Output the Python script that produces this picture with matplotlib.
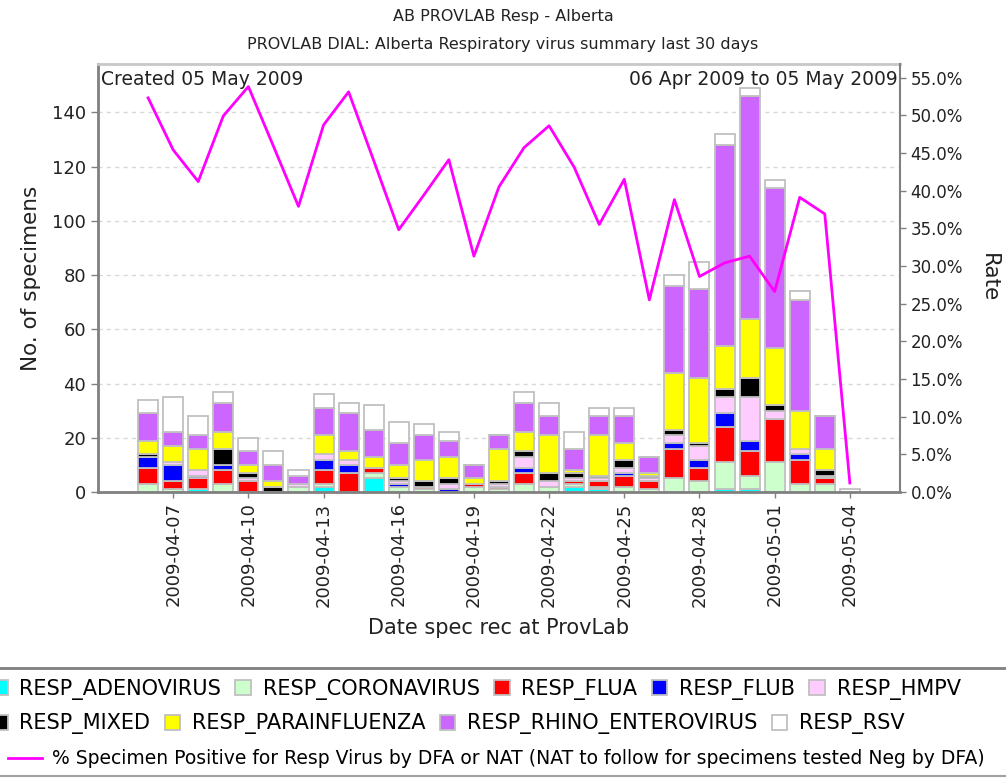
import numpy as np
import matplotlib
matplotlib.use("Agg")
import matplotlib.pyplot as plt
from matplotlib.lines import Line2D

# Dates of specimen receipt (06 Apr 2009 .. 04 May 2009)
dates = ["2009-04-06", "2009-04-07", "2009-04-08", "2009-04-09", "2009-04-10",
         "2009-04-11", "2009-04-12", "2009-04-13", "2009-04-14", "2009-04-15",
         "2009-04-16", "2009-04-17", "2009-04-18", "2009-04-19", "2009-04-20",
         "2009-04-21", "2009-04-22", "2009-04-23", "2009-04-24", "2009-04-25",
         "2009-04-26", "2009-04-27", "2009-04-28", "2009-04-29", "2009-04-30",
         "2009-05-01", "2009-05-02", "2009-05-03", "2009-05-04"]

adeno = [0, 0, 1, 0, 0, 0, 0, 2, 0, 5, 0, 0, 0, 0, 0, 0, 0, 2, 1, 0,
         0, 0, 0, 1, 1, 0, 0, 0, 0]
corona = [3, 1, 0, 3, 0, 0, 2, 1, 0, 2, 2, 1, 0, 2, 1, 3, 2, 1, 1, 2,
          1, 5, 4, 10, 5, 11, 3, 3, 0]
flua = [6, 3, 4, 5, 4, 0, 0, 5, 7, 2, 0, 1, 0, 1, 1, 4, 0, 1, 2, 4,
        3, 11, 5, 13, 9, 16, 9, 2, 0]
flub = [4, 6, 1, 2, 0, 0, 0, 4, 3, 0, 1, 0, 1, 0, 0, 2, 0, 0, 0, 1,
        0, 2, 3, 5, 4, 0, 2, 0, 0]
hmpv = [0, 1, 2, 0, 1, 0, 1, 2, 2, 0, 1, 0, 2, 0, 1, 4, 2, 1, 1, 2,
        1, 3, 5, 6, 16, 3, 2, 1, 0]
mixed = [1, 0, 0, 6, 2, 2, 0, 0, 0, 0, 1, 2, 2, 0, 1, 2, 3, 2, 1, 3,
         1, 2, 1, 3, 7, 2, 0, 2, 0]
para = [5, 6, 8, 6, 3, 2, 0, 7, 3, 4, 5, 8, 8, 2, 12, 7, 14, 1, 15, 6,
        1, 21, 24, 16, 22, 21, 14, 8, 0]
rhino = [10, 5, 5, 11, 5, 6, 3, 10, 14, 10, 8, 9, 6, 5, 5, 11, 7, 8, 7, 10,
         6, 32, 33, 74, 82, 59, 41, 12, 0]
rsv = [5, 13, 7, 4, 5, 5, 2, 5, 4, 9, 8, 4, 3, 0, 0, 4, 5, 6, 3, 3,
       0, 4, 10, 4, 3, 3, 3, 0, 1]

pct_positive = [52.3, 45.4, 41.2, 49.9, 53.8, 45.9, 37.9, 48.7, 53.1, 44.0,
                34.8, 39.4, 44.1, 31.3, 40.5, 45.7, 48.6, 43.1, 35.5, 41.5,
                25.5, 38.8, 28.6, 30.4, 31.3, 26.6, 39.1, 36.9, 1.2]

series = [
    ("RESP_ADENOVIRUS", adeno, "#00FFFF"),
    ("RESP_CORONAVIRUS", corona, "#CCFFCC"),
    ("RESP_FLUA", flua, "#FF0000"),
    ("RESP_FLUB", flub, "#0000FF"),
    ("RESP_HMPV", hmpv, "#FFCCFF"),
    ("RESP_MIXED", mixed, "#000000"),
    ("RESP_PARAINFLUENZA", para, "#FFFF00"),
    ("RESP_RHINO_ENTEROVIRUS", rhino, "#CC66FF"),
    ("RESP_RSV", rsv, "#FFFFFF"),
]
line_label = "% Specimen Positive for Resp Virus by DFA or NAT (NAT to follow for specimens tested Neg by DFA)"

x = np.arange(len(dates))
txt = "#222222"

fig = plt.figure(figsize=(10.06, 7.82), dpi=100)
ax = fig.add_axes([0.0974, 0.3708, 0.7972, 0.5474])

bottom = np.zeros(len(dates))
handles = []
for name, vals, col in series:
    vals = np.array(vals)
    b = ax.bar(x, vals, width=0.8, bottom=bottom, color=col,
               edgecolor="#C0C0C0", linewidth=1.3, label=name, zorder=2)
    handles.append(b)
    bottom += vals

ax.set_xlim(-2, 30)
ax.set_ylim(0, 157.9)
ax.set_yticks(np.arange(0, 141, 20))
ax.set_xticks(x[1::3])
ax.set_xticklabels(dates[1::3], rotation=90, fontsize=13)
ax.tick_params(axis="y", labelsize=13, colors="#808080", labelcolor=txt,
               length=5, width=1)
ax.tick_params(axis="x", colors="#808080", labelcolor=txt, length=4, width=1)
ax.yaxis.grid(True, linestyle=(0, (3, 3)), color="#D8D8D8", linewidth=1)
ax.set_axisbelow(True)
ax.set_ylabel("No. of specimens", fontsize=15.5, color=txt, labelpad=8)
ax.set_xlabel("Date spec rec at ProvLab", fontsize=15, color=txt, labelpad=8)
for s in ["left", "bottom"]:
    ax.spines[s].set_color("#808080")
    ax.spines[s].set_linewidth(2)
ax.spines["top"].set_color("#C8C8C8")
ax.spines["top"].set_linewidth(2)
ax.spines["right"].set_visible(False)

ax2 = ax.twinx()
ln, = ax2.plot(x, pct_positive, color="#FF00FF", linewidth=2, zorder=3)
ax2.set_ylim(0, 56.8)
ax2.set_yticks(np.arange(0, 55.1, 5))
ax2.set_yticklabels(["%.1f%%" % v for v in np.arange(0, 55.1, 5)])
ax2.tick_params(axis="y", labelsize=12, colors="#808080", labelcolor=txt,
                length=4, width=1)
ax2.set_ylabel("Rate", fontsize=15.5, rotation=-90, labelpad=26, color=txt)
ax2.spines["right"].set_color("#808080")
ax2.spines["right"].set_linewidth(1.5)
for s in ["left", "top", "bottom"]:
    ax2.spines[s].set_visible(False)

ax2.text(0.004, 0.985, "Created 05 May 2009", transform=ax2.transAxes,
         ha="left", va="top", fontsize=13.5, color=txt)
ax2.text(0.997, 0.985, "06 Apr 2009 to 05 May 2009", transform=ax2.transAxes,
         ha="right", va="top", fontsize=13.5, color=txt)

fig.text(0.5, 1 - 17 / 782, "AB PROVLAB Resp - Alberta", ha="center", va="center",
         fontsize=11.5, color=txt)
fig.text(0.5, 1 - 45 / 782, "PROVLAB DIAL: Alberta Respiratory virus summary last 30 days",
         ha="center", va="center", fontsize=11.5, color=txt)

# legend frame lines
fig.add_artist(Line2D([0, 1], [1 - 668 / 782] * 2, color="#808080", linewidth=2))
fig.add_artist(Line2D([0, 1], [1 - 776 / 782] * 2, color="#A0A0A0", linewidth=1.5))

leg_kw = dict(frameon=False, fontsize=15, handlelength=0.75, handleheight=0.75,
              handletextpad=0.55, columnspacing=0.7, borderaxespad=0, borderpad=0)
fig.legend(handles[:5], [s[0] for s in series[:5]], ncol=5, loc="center left",
           bbox_to_anchor=(-0.008, 1 - 689 / 782), **leg_kw)
fig.legend(handles[5:], [s[0] for s in series[5:]], ncol=4, loc="center left",
           bbox_to_anchor=(-0.008, 1 - 724 / 782), **leg_kw)
line_kw = dict(leg_kw)
line_kw["fontsize"] = 13.5
line_kw["handlelength"] = 1.8
fig.legend([ln], [line_label], loc="center left",
           bbox_to_anchor=(0.008, 1 - 759 / 782), **line_kw)

fig.savefig("out.png", dpi=100)
